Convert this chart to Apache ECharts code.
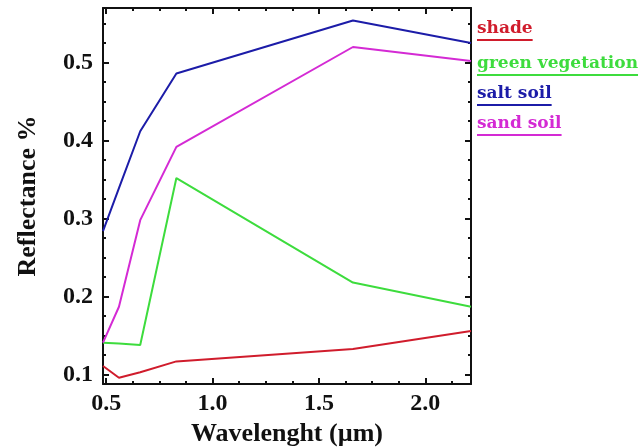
<!DOCTYPE html>
<html>
<head>
<meta charset="utf-8">
<script src="https://cdn.jsdelivr.net/npm/echarts@6/dist/echarts.min.js"></script>
<style>
  html, body { margin: 0; padding: 0; background: #fff; }
  #main { width: 643px; height: 448px; }
</style>
</head>
<body>
<div id="main"></div>
<script>
// wavelength of each band (micrometre)
var wavelength = [0.485, 0.56, 0.66, 0.83, 1.66, 2.215];

// reflectance values
var shade = [0.111, 0.096, 0.103, 0.117, 0.133, 0.156];
var greenVeg = [0.141, 0.140, 0.138, 0.352, 0.218, 0.187];
var saltSoil = [0.284, 0.339, 0.412, 0.486, 0.554, 0.525];
var sandSoil = [0.141, 0.187, 0.298, 0.392, 0.520, 0.502];

var seriesNames = ['shade', 'green vegetation', 'salt soil', 'sand soil'];
var seriesData = [shade, greenVeg, saltSoil, sandSoil];
var colors = ['#d01c2c', '#3ddc3d', '#1c1ca8', '#d42ad4'];

var xMajor = [0.5, 1.0, 1.5, 2.0];
var xMinor = [0.625, 0.75, 0.875, 1.125, 1.25, 1.375, 1.625, 1.75, 1.875, 2.125];
var yMajor = [0.1, 0.2, 0.3, 0.4, 0.5];
var yMinor = [0.125, 0.15, 0.175, 0.225, 0.25, 0.275, 0.325, 0.35, 0.375,
              0.425, 0.45, 0.475, 0.525, 0.55];

var xMin = 0.485, xMax = 2.215;
var yMin = 0.088, yMax = 0.57;

var tickFont = { fontFamily: 'Liberation Serif', fontWeight: 'bold', fontSize: 24, color: '#111' };
var nameFont = { fontFamily: 'Liberation Serif', fontWeight: 'bold', fontSize: 26, color: '#111' };
var legendFont = 'bold 17px "DejaVu Serif"';

function pairs(ys) {
  var out = [];
  for (var i = 0; i < wavelength.length; i++) {
    out.push([wavelength[i], ys[i]]);
  }
  return out;
}

function textWidth(txt, font) {
  var ctx = document.createElement('canvas').getContext('2d');
  ctx.font = font;
  return ctx.measureText(txt).width;
}

function xAxisDef(pos, ticks, len, main) {
  return {
    type: 'value', position: pos, min: xMin, max: xMax,
    axisLine: { show: main, onZero: false, lineStyle: { color: '#111', width: 2 } },
    axisTick: { show: true, inside: true, length: len, customValues: ticks,
                lineStyle: { color: '#111', width: 2 } },
    axisLabel: { show: false },
    splitLine: { show: false }
  };
}

function yAxisDef(pos, ticks, len, main) {
  return {
    type: 'value', position: pos, min: yMin, max: yMax,
    axisLine: { show: main, onZero: false, lineStyle: { color: '#111', width: 2 } },
    axisTick: { show: true, inside: true, length: len, customValues: ticks,
                lineStyle: { color: '#111', width: 2 } },
    axisLabel: { show: false },
    splitLine: { show: false }
  };
}

var dom = document.getElementById('main');
var myChart = echarts.init(dom);

var xAxes = [
  xAxisDef('bottom', xMajor, 6, true),
  xAxisDef('bottom', xMinor, 3, false),
  xAxisDef('top', xMajor, 6, true),
  xAxisDef('top', xMinor, 3, false)
];
xAxes[0].axisLabel = {
  show: true, customValues: xMajor, margin: 8,
  formatter: function (v) { return v.toFixed(1); }
};
Object.assign(xAxes[0].axisLabel, tickFont);
xAxes[0].name = 'Wavelenght (\u00b5m)';
xAxes[0].nameLocation = 'middle';
xAxes[0].nameGap = 24;
xAxes[0].nameTextStyle = nameFont;

var yAxes = [
  yAxisDef('left', yMajor, 6, true),
  yAxisDef('left', yMinor, 3, false),
  yAxisDef('right', yMajor, 6, true),
  yAxisDef('right', yMinor, 3, false)
];
yAxes[0].axisLabel = {
  show: true, customValues: yMajor, margin: 10,
  formatter: function (v) { return v.toFixed(1); }
};
Object.assign(yAxes[0].axisLabel, tickFont);
yAxes[0].name = 'Reflectance %';
yAxes[0].nameLocation = 'middle';
yAxes[0].nameRotate = 90;
yAxes[0].nameGap = 62;
yAxes[0].nameTextStyle = nameFont;

var series = [];
var graphics = [];
var legendTop = [20, 55, 85, 115];
for (var i = 0; i < seriesNames.length; i++) {
  series.push({
    name: seriesNames[i],
    type: 'line',
    xAxisIndex: 0,
    yAxisIndex: 0,
    data: pairs(seriesData[i]),
    symbol: 'none',
    lineStyle: { color: colors[i], width: 2 },
    itemStyle: { color: colors[i] },
    z: 3
  });
  var w = textWidth(seriesNames[i], legendFont);
  graphics.push({
    type: 'text', left: 477, top: legendTop[i],
    style: { text: seriesNames[i], fill: colors[i], font: legendFont }
  });
  graphics.push({
    type: 'rect', left: 477, top: legendTop[i] + 19,
    shape: { width: w, height: 2 },
    style: { fill: colors[i] }
  });
}

var option = {
  animation: false,
  backgroundColor: '#fff',
  grid: { left: 103, right: 172, top: 8, bottom: 64, outerBoundsMode: 'none' },
  xAxis: xAxes,
  yAxis: yAxes,
  series: series,
  graphic: graphics
};

myChart.setOption(option, true);
</script>
</body>
</html>
